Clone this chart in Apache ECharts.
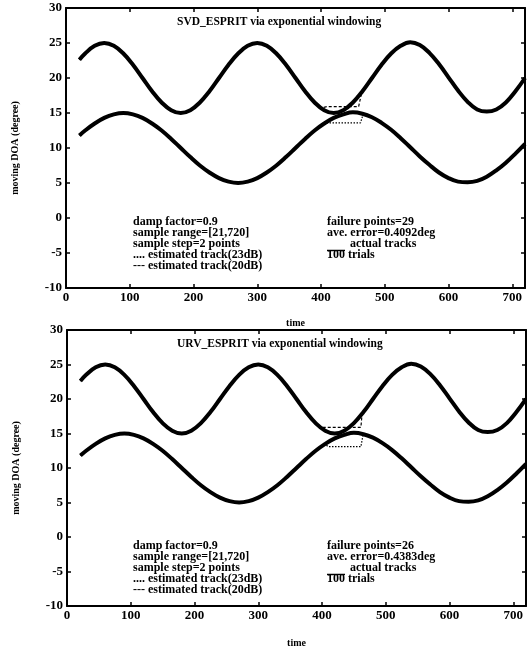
<!DOCTYPE html>
<html>
<head>
<meta charset="utf-8">
<script src="https://cdn.jsdelivr.net/npm/echarts@6/dist/echarts.min.js"></script>
<style>
  html, body { margin: 0; padding: 0; background: #fff; }
  #chart { width: 527px; height: 649px; }
</style>
</head>
<body>
<div id="chart"></div>
<script>
// time samples (read every 15 steps off the plot, from the first sample 21)
var time = [21, 30, 45, 60, 75, 90, 105, 120, 135, 150, 165, 180, 195, 210, 225, 240, 255, 270, 285, 300,
            315, 330, 345, 360, 375, 390, 405, 420, 435, 450, 465, 480, 495, 510, 525, 540, 555, 570, 585, 600,
            615, 630, 645, 660, 675, 690, 705, 720];
// actual tracks (degree)
var upperTrack = [22.6, 23.5, 24.6, 25, 24.6, 23.5, 21.9, 20, 18.1, 16.5, 15.4, 15, 15.4, 16.5, 18.1, 20, 21.9, 23.5, 24.6, 25,
                  24.6, 23.5, 21.9, 20, 18.1, 16.5, 15.4, 15, 15.4, 16.5, 18.1, 20, 21.9, 23.5, 24.6, 25.1, 24.7, 23.6, 22, 20.1,
                  18.2, 16.6, 15.5, 15.2, 15.5, 16.5, 18.1, 20];
var lowerTrack = [11.8, 12.5, 13.5, 14.3, 14.8, 15, 14.8, 14.3, 13.5, 12.5, 11.3, 10, 8.7, 7.5, 6.5, 5.7, 5.2, 5, 5.2, 5.7,
                  6.5, 7.5, 8.7, 10, 11.3, 12.5, 13.5, 14.3, 14.8, 15.1, 14.9, 14.4, 13.6, 12.6, 11.4, 10.1, 8.8, 7.6, 6.5, 5.7,
                  5.2, 5.1, 5.3, 5.9, 6.8, 7.9, 9.2, 10.6];

// where the estimates leave the actual tracks (time, degree)
var svdFail23 = [[405, 13.6], [462, 13.6], [466, 14.8]];
var svdFail20 = [[400, 15.7], [409, 15.9], [459, 15.9], [464, 18.0]];
var urvFail23 = [[405, 13.4], [410, 13.1], [461, 13.1], [464, 14.6]];
var urvFail20 = [[398, 15.9], [403, 15.9], [461, 15.9], [463, 18.0]];

var titles = ['SVD_ESPRIT via exponential windowing', 'URV_ESPRIT via exponential windowing'];
var notesLeft = 'damp factor=0.9\nsample range=[21,720]\nsample step=2 points\n.... estimated track(23dB)\n--- estimated track(20dB)';
var failPoints = ['failure points=29', 'failure points=26'];
var aveError = ['ave. error=0.4092deg', 'ave. error=0.4383deg'];

var font = '"Liberation Serif", "DejaVu Serif", serif';

function pairs(vals) {
    return time.map(function (t, i) { return [t, vals[i]]; });
}
function withFailure(vals, fail) {
    var t0 = fail[0][0], t1 = fail[fail.length - 1][0];
    var out = [];
    time.forEach(function (t, i) { if (t < t0) out.push([t, vals[i]]); });
    fail.forEach(function (p) { out.push(p); });
    time.forEach(function (t, i) { if (t > t1) out.push([t, vals[i]]); });
    return out;
}

var grids = [
    { left: 66, top: 8, width: 459, height: 280 },
    { left: 67, top: 330, width: 459, height: 278 }
];

var xAxes = [], yAxes = [], series = [];
grids.forEach(function (g, k) {
    xAxes.push({
        gridIndex: k, type: 'value', min: 0, max: 720, interval: 100,
        name: 'time', nameLocation: 'middle', nameGap: k === 0 ? 30 : 32,
        nameTextStyle: { fontFamily: font, fontWeight: 'bold', fontSize: 10, color: '#000' },
        axisLine: { onZero: false, lineStyle: { color: '#000', width: 2 } },
        axisTick: { inside: true, length: 4, lineStyle: { color: '#000', width: 1.5 } },
        axisLabel: { fontFamily: font, fontWeight: 'bold', fontSize: 13, color: '#000', margin: 3,
                     showMaxLabel: false },
        splitLine: { show: false }
    });
    xAxes.push({
        gridIndex: k, type: 'value', position: 'top', min: 0, max: 720, interval: 100,
        axisLine: { onZero: false, lineStyle: { color: '#000', width: 2 } },
        axisTick: { inside: true, length: 4, lineStyle: { color: '#000', width: 1.5 } },
        axisLabel: { show: false }, splitLine: { show: false }
    });
    yAxes.push({
        gridIndex: k, type: 'value', min: -10, max: 30, interval: 5,
        name: 'moving DOA (degree)', nameLocation: 'middle', nameGap: 46,
        nameTextStyle: { fontFamily: font, fontWeight: 'bold', fontSize: 10, color: '#000' },
        axisLine: { onZero: false, lineStyle: { color: '#000', width: 2 } },
        axisTick: { inside: true, length: 4, lineStyle: { color: '#000', width: 1.5 } },
        axisLabel: { fontFamily: font, fontWeight: 'bold', fontSize: 13, color: '#000', margin: 4 },
        splitLine: { show: false }
    });
    yAxes.push({
        gridIndex: k, type: 'value', position: 'right', min: -10, max: 30, interval: 5,
        axisLine: { onZero: false, lineStyle: { color: '#000', width: 2 } },
        axisTick: { inside: true, length: 4, lineStyle: { color: '#000', width: 1.5 } },
        axisLabel: { show: false }, splitLine: { show: false }
    });

    var xi = k * 2, yi = k * 2;
    var thick = { color: '#000', width: 4 };
    series.push({ type: 'line', xAxisIndex: xi, yAxisIndex: yi, data: pairs(upperTrack),
                  smooth: 0.4, showSymbol: false, lineStyle: thick, silent: true });
    series.push({ type: 'line', xAxisIndex: xi, yAxisIndex: yi, data: pairs(lowerTrack),
                  smooth: 0.4, showSymbol: false, lineStyle: thick, silent: true });
    // estimated tracks
    series.push({ type: 'line', xAxisIndex: xi, yAxisIndex: yi,
                  data: withFailure(lowerTrack, k === 0 ? svdFail23 : urvFail23),
                  showSymbol: false, silent: true, z: 3,
                  lineStyle: { color: '#000', width: 1.2, type: [1.5, 1.5] } });
    series.push({ type: 'line', xAxisIndex: xi, yAxisIndex: yi,
                  data: withFailure(upperTrack, k === 0 ? svdFail20 : urvFail20),
                  showSymbol: false, silent: true, z: 3,
                  lineStyle: { color: '#000', width: 1.2, type: [3, 2] } });
});

var textStyle = function (txt) {
    return { text: txt, font: 'bold 12px ' + font, fill: '#000', lineHeight: 11 };
};
var graphics = [];
var tops = [8, 330];
[0, 1].forEach(function (k) {
    var top = tops[k];
    var dy = k === 0 ? 0 : 2;
    graphics.push({ type: 'text', left: 177, top: top + 8, silent: true,
                    style: { text: titles[k], font: 'bold 11.5px ' + font, fill: '#000' } });
    graphics.push({ type: 'text', left: 133, top: top + 208 + dy, silent: true, style: textStyle(notesLeft) });
    graphics.push({ type: 'text', left: 327, top: top + 208 + dy, silent: true,
                    style: textStyle(failPoints[k] + '\n' + aveError[k]) });
    graphics.push({ type: 'text', left: 350, top: top + 230 + dy, silent: true, style: textStyle('actual tracks') });
    graphics.push({ type: 'text', left: 327, top: top + 241 + dy, silent: true, style: textStyle('100 trials') });
    graphics.push({ type: 'line', silent: true,
                    shape: { x1: 327, y1: top + 242.5 + dy, x2: 345, y2: top + 242.5 + dy },
                    style: { stroke: '#000', lineWidth: 1.5 } });
});

var myChart = echarts.init(document.getElementById('chart'), null, { renderer: 'canvas' });
myChart.setOption({
    backgroundColor: '#fff',
    animation: false,
    grid: grids,
    xAxis: xAxes,
    yAxis: yAxes,
    series: series,
    graphic: graphics
});
</script>
</body>
</html>
